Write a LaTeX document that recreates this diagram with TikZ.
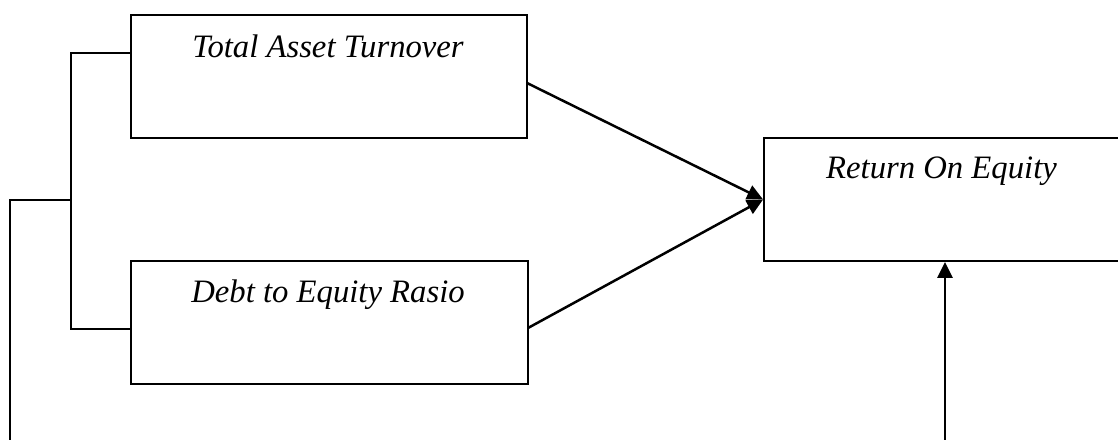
\documentclass[tikz,border=0pt]{standalone}
\usepackage{fontspec}
\setmainfont{Liberation Serif}
\usetikzlibrary{arrows.meta,calc}
\tikzset{
  box/.style={draw=black, line width=1.8pt, inner sep=0pt, rectangle},
  lbl/.style={anchor=base, inner sep=0pt, font=\fontsize{32.7}{38}\selectfont\itshape},
  thin/.style={draw=black, line width=1.3pt},
  arr/.style={draw=black, line width=2.5pt, -{Triangle[length=16pt,width=15pt]}}
}
\begin{document}
\begin{tikzpicture}[x=1pt,y=-1pt]
\useasboundingbox (0,0) rectangle (1118,439);
% boxes
\node[box, minimum width=396pt, minimum height=123pt] (tat) at (329,76.5) {};
\node[box, minimum width=397pt, minimum height=123pt] (der) at (329.5,322.5) {};
\node[box, minimum width=376pt, minimum height=123pt] (roe) at (952,199.5) {};
% labels
\node[lbl] (tatT) at (328,57) {Total Asset Turnover};
\node[lbl] (derT) at (328,302) {Debt to Equity Rasio};
\node[lbl] (roeT) at (941.5,178) {Return On Equity};
% bracket
\coordinate (j1) at (71,53);
\coordinate (j2) at (71,329);
\coordinate (jm) at (71,200);
\coordinate (lt) at (10,200);
\coordinate (lb) at (10,440);
\draw[thin] (tat.west |- j1) -- (j1) -- (j2) -- (der.west |- j2);
\draw[thin] (jm) -- (lt) -- (lb);
% arrows
\coordinate (s1) at (527,83);
\coordinate (s2) at (528,328);
\draw[arr] (s1) -- (roe.west);
\draw[arr] (s2) -- (roe.west);
\coordinate (vb) at (945,440);
\draw[arr] (vb) -- (vb |- roe.south);
\end{tikzpicture}
\end{document}
